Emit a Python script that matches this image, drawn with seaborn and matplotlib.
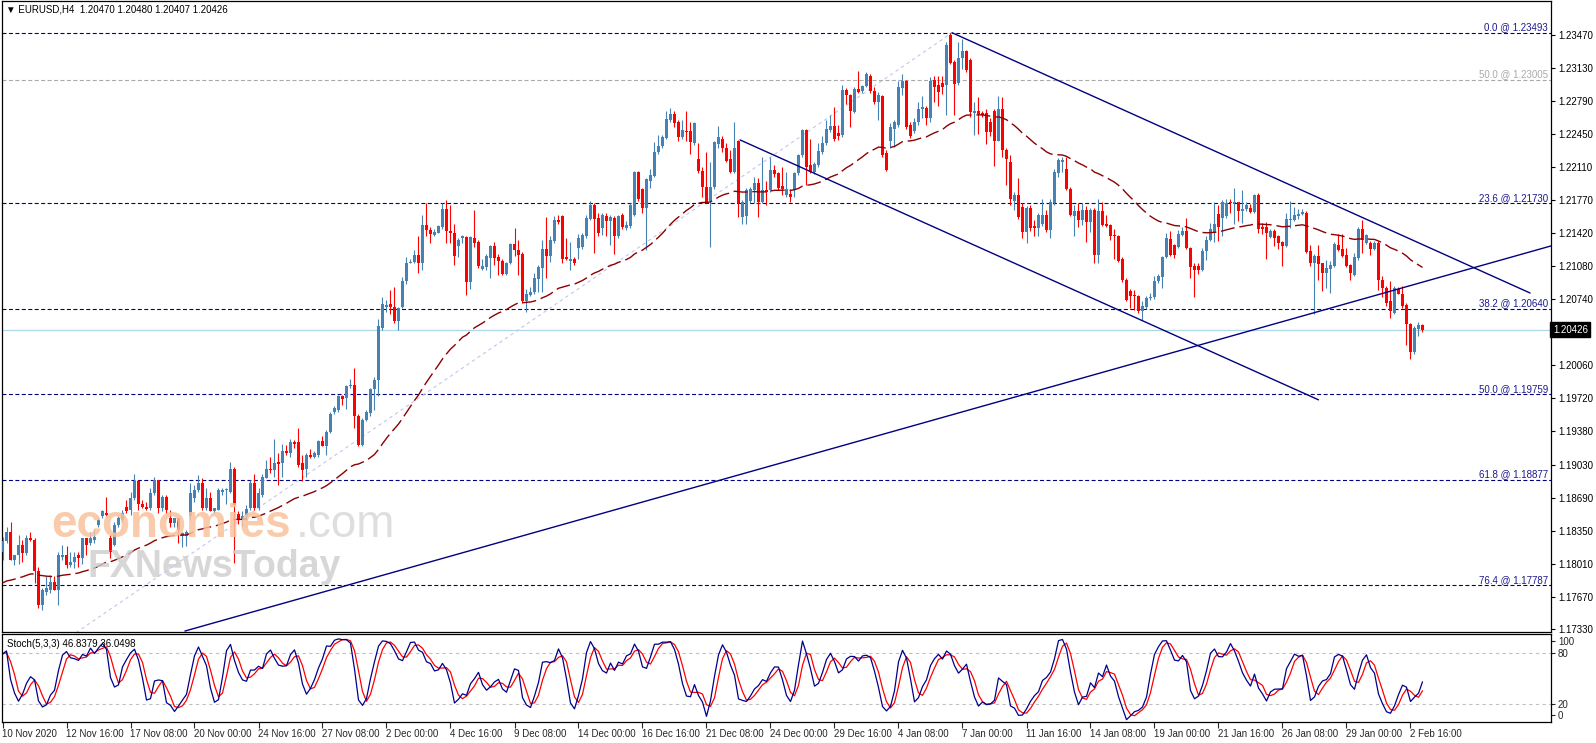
import numpy as np
import pandas as pd
import matplotlib
matplotlib.use("Agg")
import matplotlib.pyplot as plt
import seaborn as sns

# ---------------- data (EURUSD H4) ----------------
opens = [
 1.1813,1.1824,1.1834,1.1805,1.1810,1.1820,1.1812,1.1827,1.1825,1.1793,
 1.1758,1.1772,1.1774,1.1782,1.1774,1.1808,1.1810,1.1800,1.1803,1.1810,
 1.1807,1.1827,1.1822,1.1825,1.1841,1.1850,1.1853,1.1828,1.1820,1.1841,
 1.1846,1.1860,1.1856,1.1869,1.1886,1.1863,1.1860,1.1858,1.1874,1.1887,
 1.1858,1.1870,1.1848,1.1843,1.1848,1.1830,1.1830,1.1850,1.1869,1.1877,
 1.1884,1.1858,1.1869,1.1855,1.1856,1.1875,1.1877,1.1875,1.1899,1.1852,
 1.1846,1.1850,1.1858,1.1884,1.1858,1.1872,1.1889,1.1899,1.1898,1.1906,
 1.1905,1.1917,1.1915,1.1927,1.1927,1.1905,1.1899,1.1913,1.1911,1.1913,
 1.1928,1.1923,1.1937,1.1958,1.1960,1.1974,1.1972,1.1984,1.1986,1.1954,
 1.1924,1.1949,1.1957,1.1981,1.1991,1.2044,1.2066,1.2069,1.2066,1.2052,
 1.2066,1.2093,1.2112,1.2113,1.2120,1.2111,1.2151,1.2146,1.2140,1.2143,
 1.2149,1.2167,1.2145,1.2143,1.2129,1.2137,1.2138,1.2092,1.2137,1.2133,
 1.2105,1.2107,1.2117,1.2129,1.2118,1.2114,1.2100,1.2111,1.2131,1.2125,
 1.2121,1.2072,1.2078,1.2082,1.2095,1.2106,1.2126,1.2119,1.2134,1.2156,
 1.2160,1.2118,1.2114,1.2116,1.2127,1.2128,1.2139,1.2157,1.2171,1.2158,
 1.2148,1.2160,1.2155,1.2158,1.2139,1.2161,1.2148,1.2150,1.2161,1.2206,
 1.2188,1.2168,1.2196,1.2201,1.2226,1.2232,1.2241,1.2259,1.2265,1.2257,
 1.2242,1.2248,1.2248,1.2235,1.2219,1.2207,1.2190,1.2176,1.2190,1.2234,
 1.2240,1.2230,1.2219,1.2206,1.2238,1.2159,1.2160,1.2176,1.2187,1.2194,
 1.2175,1.2187,1.2187,1.2208,1.2204,1.2191,1.2182,1.2183,1.2187,1.2204,
 1.2223,1.2249,1.2213,1.2205,1.2213,1.2226,1.2235,1.2249,1.2253,1.2246,
 1.2244,1.2290,1.2285,1.2267,1.2291,1.2289,1.2294,1.2305,1.2289,1.2278,
 1.2284,1.2225,1.2238,1.2250,1.2254,1.2292,1.2299,1.2254,1.2248,1.2257,
 1.2271,1.2272,1.2261,1.2300,1.2295,1.2297,1.2295,1.2347,1.2319,1.2297,
 1.2323,1.2330,1.2321,1.2266,1.2268,1.2266,1.2266,1.2257,1.2268,1.2238,
 1.2271,1.2228,1.2216,1.2176,1.2182,1.2169,1.2144,1.2168,1.2150,1.2148,
 1.2152,1.2161,1.2146,1.2173,1.2204,1.2216,1.2209,1.2188,1.2160,1.2165,
 1.2156,1.2166,1.2154,1.2166,1.2120,1.2165,1.2152,1.2151,1.2140,1.2139,
 1.2116,1.2094,1.2083,1.2078,1.2077,1.2062,1.2066,1.2075,1.2076,1.2093,
 1.2097,1.2118,1.2136,1.2130,1.2128,1.2140,1.2145,1.2127,1.2108,1.2108,
 1.2104,1.2124,1.2135,1.2143,1.2162,1.2158,1.2160,1.2174,1.2173,1.2174,
 1.2165,1.2167,1.2168,1.2164,1.2182,1.2149,1.2149,1.2138,1.2145,1.2139,
 1.2133,1.2129,1.2156,1.2156,1.2160,1.2162,1.2163,1.2124,1.2111,1.2119,
 1.2111,1.2101,1.2105,1.2108,1.2130,1.2126,1.2120,1.2109,1.2099,1.2117,
 1.2147,1.2132,1.2132,1.2126,1.2132,1.2094,1.2086,1.2072,1.2060,1.2085,
 1.2080,1.2068,1.2049,1.2020,1.2043,1.2047]

highs = [
 1.1829,1.1839,1.1844,1.1810,1.1831,1.1825,1.1831,1.1834,1.1827,1.1798,
 1.1776,1.1788,1.1789,1.1788,1.1813,1.1820,1.1819,1.1813,1.1813,1.1813,
 1.1827,1.1827,1.1834,1.1837,1.1848,1.1856,1.1870,1.1831,1.1844,1.1850,
 1.1856,1.1867,1.1875,1.1894,1.1887,1.1867,1.1865,1.1879,1.1891,1.1887,
 1.1872,1.1872,1.1856,1.1848,1.1848,1.1834,1.1836,1.1884,1.1882,1.1893,
 1.1889,1.1879,1.1875,1.1858,1.1879,1.1879,1.1879,1.1906,1.1901,1.1855,
 1.1855,1.1862,1.1887,1.1894,1.1879,1.1894,1.1908,1.1911,1.1930,1.1915,
 1.1925,1.1924,1.1930,1.1929,1.1941,1.1913,1.1915,1.1919,1.1917,1.1929,
 1.1933,1.1939,1.1958,1.1964,1.1975,1.1975,1.1986,1.1992,1.2003,1.1956,
 1.1951,1.1960,1.1982,1.1994,1.2054,1.2076,1.2073,1.2084,1.2087,1.2066,
 1.2097,1.2118,1.2116,1.2125,1.2139,1.2161,1.2173,1.2149,1.2147,1.2151,
 1.2173,1.2177,1.2171,1.2152,1.2137,1.2140,1.2139,1.2139,1.2166,1.2135,
 1.2116,1.2121,1.2130,1.2133,1.2121,1.2116,1.2113,1.2132,1.2148,1.2135,
 1.2123,1.2085,1.2087,1.2101,1.2109,1.2135,1.2159,1.2139,1.2160,1.2161,
 1.2161,1.2137,1.2133,1.2118,1.2141,1.2142,1.2161,1.2176,1.2173,1.2163,
 1.2163,1.2163,1.2161,1.2160,1.2161,1.2163,1.2155,1.2173,1.2207,1.2207,
 1.2189,1.2199,1.2209,1.2236,1.2244,1.2244,1.2268,1.2272,1.2268,1.2259,
 1.2259,1.2269,1.2257,1.2257,1.2235,1.2211,1.2226,1.2216,1.2238,1.2253,
 1.2243,1.2235,1.2228,1.2257,1.2239,1.2177,1.2189,1.2190,1.2200,1.2199,
 1.2221,1.2196,1.2221,1.2213,1.2206,1.2211,1.2206,1.2188,1.2206,1.2224,
 1.2250,1.2250,1.2240,1.2216,1.2235,1.2243,1.2259,1.2264,1.2273,1.2254,
 1.2295,1.2292,1.2286,1.2293,1.2310,1.2295,1.2309,1.2307,1.2293,1.2288,
 1.2285,1.2228,1.2256,1.2259,1.2299,1.2307,1.2300,1.2257,1.2261,1.2278,
 1.2284,1.2274,1.2304,1.2305,1.2305,1.2305,1.2340,1.23493,1.2321,1.2340,
 1.2343,1.2332,1.2323,1.2278,1.2283,1.2269,1.2271,1.2261,1.2271,1.2284,
 1.2283,1.2230,1.2223,1.2185,1.2199,1.2173,1.2170,1.2171,1.2156,1.2163,
 1.2178,1.2166,1.2178,1.2209,1.2220,1.2221,1.2221,1.2190,1.2171,1.2173,
 1.2173,1.2170,1.2168,1.2168,1.2178,1.2175,1.2161,1.2152,1.2147,1.2140,
 1.2118,1.2096,1.2085,1.2084,1.2078,1.2072,1.2077,1.2081,1.2098,1.2100,
 1.2119,1.2143,1.2145,1.2131,1.2146,1.2149,1.2158,1.2128,1.2111,1.2111,
 1.2127,1.2139,1.2153,1.2174,1.2171,1.2177,1.2178,1.2178,1.2189,1.2175,
 1.2187,1.2174,1.2172,1.2183,1.2184,1.2153,1.2154,1.2147,1.2147,1.2140,
 1.2134,1.2163,1.2176,1.2169,1.2167,1.2167,1.2165,1.2130,1.2121,1.2130,
 1.2112,1.2115,1.2114,1.2133,1.2141,1.2141,1.2127,1.2110,1.2122,1.2149,
 1.2156,1.2141,1.2134,1.2134,1.2134,1.2098,1.2088,1.2093,1.2088,1.2087,
 1.2088,1.2070,1.2050,1.2046,1.2051,1.2048]

lows = [
 1.1805,1.1822,1.1805,1.1800,1.1801,1.1803,1.1810,1.1824,1.1781,1.1755,
 1.1753,1.1769,1.1771,1.1774,1.1758,1.1805,1.1796,1.1798,1.1796,1.1798,
 1.1801,1.1810,1.1820,1.1822,1.1839,1.1848,1.1850,1.1807,1.1819,1.1839,
 1.1844,1.1853,1.1851,1.1867,1.1856,1.1858,1.1856,1.1856,1.1872,1.1853,
 1.1855,1.1853,1.1839,1.1839,1.1822,1.1818,1.1819,1.1846,1.1865,1.1875,
 1.1856,1.1856,1.1855,1.1853,1.1856,1.1872,1.1863,1.1874,1.1802,1.1842,
 1.1840,1.1846,1.1856,1.1856,1.1856,1.1870,1.1889,1.1895,1.1891,1.1882,
 1.1891,1.1913,1.1911,1.1920,1.1901,1.1886,1.1891,1.1910,1.1910,1.1911,
 1.1922,1.1913,1.1936,1.1956,1.1958,1.1965,1.1961,1.1982,1.1941,1.1922,
 1.1922,1.1948,1.1954,1.1960,1.1974,1.2042,1.2061,1.2059,1.2050,1.2042,
 1.2065,1.2090,1.2111,1.2111,1.2101,1.2104,1.2139,1.2132,1.2139,1.2142,
 1.2147,1.2132,1.2132,1.2109,1.2118,1.2132,1.2078,1.2085,1.2128,1.2106,
 1.2104,1.2104,1.2096,1.2109,1.2099,1.2099,1.2099,1.2110,1.2119,1.2099,
 1.2070,1.2061,1.2077,1.2080,1.2082,1.2082,1.2096,1.2113,1.2132,1.2152,
 1.2111,1.2115,1.2104,1.2109,1.2116,1.2126,1.2137,1.2156,1.2122,1.2139,
 1.2140,1.2139,1.2130,1.2121,1.2137,1.2147,1.2146,1.2148,1.2160,1.2176,
 1.2163,1.2125,1.2189,1.2200,1.2224,1.2230,1.2240,1.2257,1.2252,1.2238,
 1.2240,1.2237,1.2224,1.2233,1.2204,1.2180,1.2173,1.2128,1.2188,1.2230,
 1.2226,1.2216,1.2204,1.2204,1.2159,1.2152,1.2152,1.2173,1.2173,1.2159,
 1.2173,1.2171,1.2185,1.2200,1.2187,1.2182,1.2180,1.2175,1.2180,1.2202,
 1.2221,1.2192,1.2204,1.2203,1.2211,1.2224,1.2233,1.2247,1.2237,1.2239,
 1.2242,1.2276,1.2252,1.2266,1.2287,1.2287,1.2293,1.2287,1.2276,1.2259,
 1.2221,1.2207,1.2230,1.2231,1.2252,1.2285,1.2250,1.2241,1.2246,1.2254,
 1.2261,1.2254,1.2257,1.2278,1.2274,1.2286,1.2264,1.2317,1.2264,1.2295,
 1.2312,1.2309,1.2262,1.2244,1.2245,1.2262,1.2234,1.2243,1.2212,1.2237,
 1.2221,1.2192,1.2171,1.2166,1.2157,1.2137,1.2132,1.2145,1.2139,1.2139,
 1.2150,1.2144,1.2137,1.2171,1.2200,1.2206,1.2187,1.2160,1.2139,1.2149,
 1.2151,1.2133,1.2144,1.2111,1.2111,1.2150,1.2149,1.2135,1.2116,1.2113,
 1.2092,1.2072,1.2065,1.2063,1.2060,1.2053,1.2064,1.2073,1.2074,1.2091,
 1.2086,1.2117,1.2119,1.2117,1.2127,1.2139,1.2126,1.2096,1.2076,1.2100,
 1.2103,1.2115,1.2134,1.2133,1.2134,1.2139,1.2158,1.2163,1.2152,1.2155,
 1.2153,1.2165,1.2163,1.2163,1.2143,1.2141,1.2116,1.2137,1.2129,1.2126,
 1.2108,1.2128,1.2148,1.2155,1.2157,1.2161,1.2122,1.2108,1.2059,1.2094,
 1.2083,1.2086,1.2081,1.2107,1.2124,1.2118,1.2107,1.2094,1.2098,1.2115,
 1.2122,1.2131,1.2120,1.2125,1.2084,1.2076,1.2067,1.2055,1.2059,1.2079,
 1.2065,1.2027,1.2012,1.2018,1.2036,1.20407]

closes = [
 1.1824,1.1834,1.1805,1.1810,1.1820,1.1812,1.1827,1.1825,1.1793,1.1758,
 1.1774,1.1776,1.1782,1.1774,1.1810,1.1810,1.1800,1.1803,1.1808,1.1807,
 1.1827,1.1820,1.1827,1.1829,1.1846,1.1855,1.1851,1.1813,1.1841,1.1848,
 1.1853,1.1855,1.1869,1.1886,1.1863,1.1860,1.1857,1.1874,1.1887,1.1858,
 1.1870,1.1856,1.1843,1.1848,1.1836,1.1833,1.1834,1.1874,1.1877,1.1884,
 1.1858,1.1869,1.1855,1.1858,1.1877,1.1877,1.1878,1.1899,1.1862,1.1846,
 1.1850,1.1857,1.1884,1.1858,1.1874,1.1891,1.1899,1.1898,1.1905,1.1904,
 1.1917,1.1915,1.1927,1.1925,1.1903,1.1898,1.1913,1.1911,1.1915,1.1928,
 1.1923,1.1937,1.1956,1.1962,1.1974,1.1971,1.1984,1.1986,1.1954,1.1924,
 1.1949,1.1958,1.1981,1.1991,1.2046,1.2069,1.2068,1.2066,1.2052,1.2065,
 1.2093,1.2112,1.2113,1.2120,1.2111,1.2151,1.2146,1.2141,1.2144,1.2150,
 1.2167,1.2145,1.2143,1.2119,1.2135,1.2139,1.2092,1.2138,1.2132,1.2108,
 1.2108,1.2119,1.2129,1.2117,1.2114,1.2100,1.2112,1.2131,1.2125,1.2120,
 1.2072,1.2079,1.2082,1.2096,1.2107,1.2126,1.2119,1.2135,1.2156,1.2154,
 1.2116,1.2116,1.2116,1.2111,1.2137,1.2140,1.2158,1.2171,1.2157,1.2142,
 1.2161,1.2155,1.2159,1.2139,1.2160,1.2149,1.2151,1.2171,1.2206,1.2178,
 1.2168,1.2198,1.2202,1.2226,1.2232,1.2242,1.2260,1.2265,1.2256,1.2242,
 1.2249,1.2247,1.2236,1.2256,1.2207,1.2190,1.2174,1.2190,1.2236,1.2242,
 1.2230,1.2217,1.2205,1.2230,1.2173,1.2175,1.2187,1.2188,1.2194,1.2175,
 1.2187,1.2185,1.2208,1.2203,1.2189,1.2188,1.2188,1.2180,1.2204,1.2223,
 1.2249,1.2211,1.2206,1.2214,1.2227,1.2235,1.2250,1.2253,1.2240,1.2243,
 1.2290,1.2285,1.2268,1.2291,1.2288,1.2294,1.2307,1.2289,1.2278,1.2285,
 1.2223,1.2208,1.2252,1.2257,1.2293,1.2299,1.2252,1.2243,1.2257,1.2271,
 1.2273,1.2261,1.2299,1.2293,1.2288,1.2293,1.2337,1.2318,1.2296,1.2323,
 1.2330,1.2311,1.2267,1.2268,1.2265,1.2264,1.2247,1.2247,1.2238,1.2271,
 1.2228,1.2219,1.2178,1.2182,1.2159,1.2144,1.2168,1.2148,1.2148,1.2161,
 1.2161,1.2146,1.2174,1.2205,1.2218,1.2218,1.2188,1.2161,1.2165,1.2156,
 1.2166,1.2154,1.2166,1.2120,1.2165,1.2151,1.2150,1.2139,1.2139,1.2114,
 1.2094,1.2073,1.2077,1.2077,1.2062,1.2067,1.2075,1.2076,1.2093,1.2098,
 1.2118,1.2137,1.2120,1.2120,1.2141,1.2145,1.2127,1.2107,1.2104,1.2104,
 1.2124,1.2135,1.2147,1.2152,1.2149,1.2174,1.2173,1.2173,1.2174,1.2165,
 1.2167,1.2171,1.2164,1.2182,1.2147,1.2147,1.2143,1.2145,1.2137,1.2132,
 1.2129,1.2157,1.2157,1.2161,1.2162,1.2164,1.2123,1.2111,1.2119,1.2110,
 1.2101,1.2106,1.2109,1.2131,1.2125,1.2119,1.2108,1.2101,1.2118,1.2147,
 1.2135,1.2140,1.2126,1.2132,1.2094,1.2086,1.2070,1.2062,1.2086,1.2080,
 1.2067,1.2049,1.2020,1.2044,1.2047,1.20426]

x_labels = ["10 Nov 2020", "12 Nov 16:00", "17 Nov 08:00", "20 Nov 00:00",
            "24 Nov 16:00", "27 Nov 08:00", "2 Dec 00:00", "4 Dec 16:00",
            "9 Dec 08:00", "14 Dec 00:00", "16 Dec 16:00", "21 Dec 08:00",
            "24 Dec 00:00", "29 Dec 16:00", "4 Jan 08:00", "7 Jan 00:00",
            "11 Jan 16:00", "14 Jan 08:00", "19 Jan 00:00", "21 Jan 16:00",
            "26 Jan 08:00", "29 Jan 00:00", "2 Feb 16:00"]
bars_per_label = 16

# right price scale (1.20400 is hidden under the current-price box)
price_ticks = [1.23470, 1.23130, 1.22790, 1.22450, 1.22110, 1.21770, 1.21420,
               1.21080, 1.20740, 1.20400, 1.20060, 1.19720, 1.19380, 1.19030,
               1.18690, 1.18350, 1.18010, 1.17670, 1.17330]
hidden_tick = 1.20400

fib_names = ["0.0", "23.6", "38.2", "50.0", "61.8", "76.4"]
fib_levels = [1.23493, 1.21730, 1.20640, 1.19759, 1.18877, 1.17787]
grey_fib_name = "50.0"
grey_fib_level = 1.23005

ma_period = 50
ma_seed = 1.1781
last_price = 1.20426
header_text = "EURUSD,H4  1.20470 1.20480 1.20407 1.20426"
stoch_text = "Stoch(5,3,3) 46.8379 36.0498"

# trend-line anchors: (bar index, price)
upper_line = [(237.4, 1.23493), (381.9, 1.20805)]
lower_line = [(184.4, 1.22386), (329.0, 1.19702)]
rising_line = [(45.6, 1.17314), (387.1, 1.21291)]
fib_diag = [(-26.6, 1.16024), (237.4, 1.23493)]

# ---------------- figure ----------------
sns.set_style("white")
plt.rcParams['font.family'] = ['Liberation Sans', 'DejaVu Sans']

W, H = 1596, 743
fig = plt.figure(figsize=(W / 100, H / 100), dpi=100)
fig.patch.set_facecolor('white')
ax = fig.add_axes([2 / W, 1 - 632 / H, 1549 / W, 631 / H])
axs = fig.add_axes([2 / W, 1 - 722 / H, 1549 / W, 88 / H])

n = len(closes)
df = pd.DataFrame(dict(i=np.arange(n), o=opens, h=highs, l=lows, c=closes))
df['h'] = df[['h', 'o', 'c']].max(axis=1)
df['l'] = df[['l', 'o', 'c']].min(axis=1)
up = (df.c >= df.o).values
col = np.where(up, '#4682B4', '#FF0000')

NAVY = '#000080'
XMIN, XMAX = -0.125, 387.125

# horizontal fibonacci levels
for lv in fib_levels:
    ax.axhline(lv, color=NAVY, lw=0.8, ls=(0, (3.6, 2.2)), zorder=1)
ax.axhline(grey_fib_level, color='#A9A9A9', lw=0.8, ls=(0, (3.6, 2.2)), zorder=1)
ax.axhline(last_price, color='#ADD8E6', lw=0.9, zorder=1)

# fibonacci diagonal
sns.lineplot(x=[p[0] for p in fib_diag], y=[p[1] for p in fib_diag], ax=ax,
             color='#C4C4EE', lw=0.8, linestyle=(0, (3, 3)), zorder=1)

# candles
ax.vlines(df.i, df.l, df.h, colors=col, lw=0.8, zorder=3)
body_lo = np.minimum(df.o, df.c)
body_h = np.maximum((df.c - df.o).abs(), 0.00008)
ax.bar(df.i, body_h, bottom=body_lo, width=0.72, color=col, linewidth=0, zorder=4)

# moving average (EMA of closes)
alpha = 2.0 / (ma_period + 1)
ma = [ma_seed]
for c in closes[1:]:
    ma.append(ma[-1] + alpha * (c - ma[-1]))
sns.lineplot(x=df.i, y=ma, ax=ax, color='#8B0000', lw=1.0,
             linestyle=(0, (10, 3.5)), zorder=5)

# trend lines
for line in (upper_line, lower_line, rising_line):
    xs = [p[0] for p in line]
    ys = [p[1] for p in line]
    sns.lineplot(x=xs, y=ys, ax=ax, color=NAVY, lw=1.0, zorder=6)

ax.set_xlim(XMIN, XMAX)
ax.set_ylim(1.17304, 1.23821)
ax.set_xticks([])
ax.set_xlabel('')
ax.set_ylabel('')
ax.yaxis.tick_right()
ax.set_yticks(price_ticks)
ax.set_yticklabels(["" if abs(v - hidden_tick) < 1e-9 else f"{v:.5f}" for v in price_ticks])
ax.tick_params(axis='y', direction='out', length=3, width=0.8, labelsize=7,
               pad=2, colors='black', right=True, left=False)

# fib labels
for name, lv in zip(fib_names, fib_levels):
    ax.text(0.998, lv + 0.00006, f"{name} @ {lv:.5f}", transform=ax.get_yaxis_transform(),
            ha='right', va='bottom', fontsize=7, color='#1A1A8C', zorder=7)
ax.text(0.998, grey_fib_level + 0.00006, f"{grey_fib_name} @ {grey_fib_level:.5f}",
        transform=ax.get_yaxis_transform(), ha='right', va='bottom', fontsize=7,
        color='#A9A9A9', zorder=7)

# current price label
ax.text(1.0012, last_price, f"{last_price:.5f}", transform=ax.get_yaxis_transform(),
        ha='left', va='center', fontsize=7, color='white', zorder=20, clip_on=False,
        bbox=dict(facecolor='black', edgecolor='black', boxstyle='square,pad=0.25'))

for sp in ax.spines.values():
    sp.set_color('black')
    sp.set_linewidth(0.9)

# ---------------- stochastic ----------------
ll = df.l.rolling(5, min_periods=1).min()
hh = df.h.rolling(5, min_periods=1).max()
num = (df.c - ll).rolling(3, min_periods=1).sum()
den = (hh - ll).rolling(3, min_periods=1).sum()
k_line = 100 * num / den
d_line = k_line.rolling(3, min_periods=1).mean()

axs.axhline(80, color='#C0C0C0', lw=0.8, ls=(0, (3, 3)))
axs.axhline(20, color='#C0C0C0', lw=0.8, ls=(0, (3, 3)))
sns.lineplot(x=df.i, y=d_line, ax=axs, color='#FF0000', lw=0.9)
sns.lineplot(x=df.i, y=k_line, ax=axs, color='#00008B', lw=0.9)
axs.set_xlim(XMIN, XMAX)
axs.set_ylim(-0.8, 102.7)
axs.set_xlabel('')
axs.set_ylabel('')
axs.yaxis.tick_right()
axs.set_yticks([94.5, 80.4, 20.4, 7.4])
axs.set_yticklabels(['100', '80', '20', '0'])
axs.tick_params(axis='y', direction='out', length=3, width=0.8, labelsize=7, pad=2,
                right=True, left=False)
xt = [bars_per_label * k for k in range(len(x_labels))]
axs.set_xticks(xt)
axs.set_xticklabels(x_labels)
for t in axs.get_xticklabels():
    t.set_ha('left')
axs.tick_params(axis='x', direction='out', length=4, width=0.8, labelsize=7, pad=1,
                bottom=True)
axs.text(0.003, 0.94, stoch_text, transform=axs.transAxes, fontsize=7, va='top',
         ha='left', color='black')
for sp in axs.spines.values():
    sp.set_color('black')
    sp.set_linewidth(0.9)

# header
fig.text(6 / W, 1 - 10 / H, "\u25BC " + header_text, fontsize=7, va='center',
         ha='left', color='black')

# watermark
fig.text(51 / W, 1 - 537 / H, "economies", fontsize=33, fontweight='bold',
         color='#F8C29C', alpha=0.85, va='baseline', ha='left', zorder=10)
fig.text(296 / W, 1 - 537 / H, ".com", fontsize=33, color='#D9D9D9', alpha=0.85,
         va='baseline', ha='left', zorder=10)
fig.text(88 / W, 1 - 577 / H, "FXNewsToday", fontsize=27, fontweight='bold',
         color='#CDCDCD', alpha=0.8, va='baseline', ha='left', zorder=10)

fig.savefig("out.png", dpi=100, facecolor='white')
